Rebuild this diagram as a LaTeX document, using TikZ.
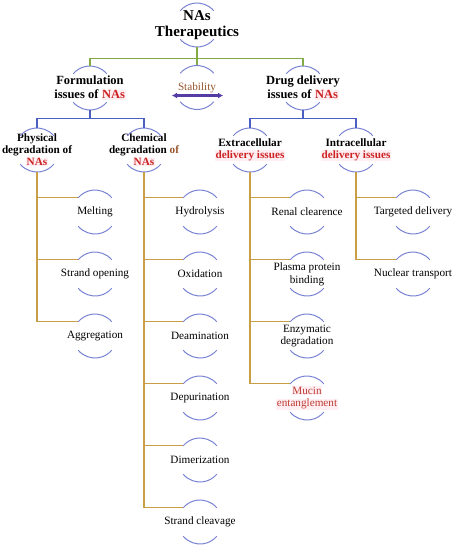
\documentclass[tikz,border=0pt]{standalone}
\usepackage{fontspec}
\setmainfont{Liberation Serif}
\usetikzlibrary{arrows.meta, calc}
\definecolor{arcblue}{RGB}{120,130,210}
\definecolor{treegreen}{RGB}{130,170,70}
\definecolor{treeblue}{RGB}{75,95,195}
\definecolor{treebrown}{RGB}{200,158,70}
\definecolor{nared}{RGB}{205,35,35}
\definecolor{mucinred}{RGB}{190,60,50}
\definecolor{stabbrown}{RGB}{150,85,45}
\definecolor{arrowpurple}{RGB}{85,60,165}
\definecolor{hlpink}{RGB}{255,238,242}
\newcommand*{\hlred}[1]{{\setlength{\fboxsep}{0.6pt}\colorbox{hlpink}{\textcolor{nared}{#1}}}}
\newcommand*{\hlmucin}[1]{{\setlength{\fboxsep}{0.6pt}\colorbox{hlpink}{\textcolor{mucinred}{#1}}}}

\begin{document}
\begin{tikzpicture}[
        x=1pt,y=-1pt,
        every node/.style={inner sep=0pt, minimum height=44pt, align=center},
        toplevel/.style={font=\fontsize{15}{16}\selectfont\bfseries},
        midlevel/.style={font=\fontsize{12.5}{14}\selectfont\bfseries},
        sublevel/.style={font=\fontsize{11.2}{12}\selectfont\bfseries},
        leaf/.style={font=\fontsize{11.2}{12.8}\selectfont},
        ringarc/.style={arcblue, line width=1pt},
        greenline/.style={treegreen, line width=1.2pt},
        blueline/.style={treeblue, line width=1.2pt},
        brownline/.style={treebrown, line width=1.2pt},
        ]

        \useasboundingbox (0,0) rectangle (456,550);

        % top and second row
        \node[toplevel] (top)   at (197,25) {NAs\\Therapeutics};
        \node[midlevel] (form)  at (90,88)  {Formulation\\issues of \hlred{NAs}};
        \node[leaf, text=stabbrown] (stab) at (197,87.5) {Stability};
        \node[midlevel] (drug)  at (303,88) {Drug delivery\\issues of \hlred{NAs}};

        % third row
        \node[sublevel] (phys)  at (37,150)  {Physical\\degradation of\\\hlred{NAs}};
        \node[sublevel] (chem)  at (144,150) {Chemical\\degradation \textcolor{stabbrown}{of}\\\hlred{NAs}};
        \node[sublevel] (extra) at (250,150) {Extracellular\\\hlred{delivery issues}};
        \node[sublevel] (intra) at (356,150) {Intracellular\\\hlred{delivery issues}};

        % leaves
        \node[leaf] (melt)  at (95,212) {Melting};
        \node[leaf] (open)  at (95,274) {Strand opening};
        \node[leaf] (aggr)  at (95,336) {Aggregation};

        \node[leaf] (hydro) at (200,212) {Hydrolysis};
        \node[leaf] (oxid)  at (200,274) {Oxidation};
        \node[leaf] (deam)  at (200,336) {Deamination};
        \node[leaf] (depur) at (200,398) {Depurination};
        \node[leaf] (dimer) at (200,460) {Dimerization};
        \node[leaf] (cleav) at (200,522) {Strand cleavage};

        \node[leaf] (renal) at (307,212) {Renal clearence};
        \node[leaf] (plasm) at (307,274) {Plasma protein\\binding};
        \node[leaf] (enzym) at (307,336) {Enzymatic\\degradation};
        \node[leaf] (mucin) at (307,398) {\hlmucin{Mucin}\\\hlmucin{entanglement}};

        \node[leaf] (targ)  at (413,212) {Targeted delivery};
        \node[leaf] (nucl)  at (413,274) {Nuclear transport};

        % arcs round every node
        \foreach \n in {top,form,stab,drug,phys,chem,extra,intra,melt,open,aggr,
                        hydro,oxid,deam,depur,dimer,cleav,renal,plasm,enzym,mucin,targ,nucl}{
            \draw[ringarc] ($(\n.center)+(40:22pt)$) arc[start angle=40, end angle=140, radius=22pt];
            \draw[ringarc] ($(\n.center)+(220:22pt)$) arc[start angle=220, end angle=320, radius=22pt];
        }

        % connectors
        \draw[greenline] (top.south) -- ++(0,11) coordinate (gbar) -| (form.north);
        \draw[greenline] (gbar) -| (drug.north);
        \draw[greenline] (top.south) -- (stab.north);

        \draw[blueline] (form.south) -- ++(0,8) coordinate (fbar) -| (phys.north);
        \draw[blueline] (fbar) -| (chem.north);
        \draw[blueline] (drug.south) -- ++(0,8) coordinate (dbar) -| (extra.north);
        \draw[blueline] (dbar) -| (intra.north);

        \foreach \p/\c in {phys/melt,phys/open,phys/aggr,
                           chem/hydro,chem/oxid,chem/deam,chem/depur,chem/dimer,chem/cleav,
                           extra/renal,extra/plasm,extra/enzym,extra/mucin,
                           intra/targ,intra/nucl}
            \draw[brownline] (\p.south) |- ($(\c.center)+(140:22pt)$);

        % stability arrow
        \coordinate (stabL) at (172,95.5);
        \coordinate (stabR) at (223,95.5);
        \draw[arrowpurple, line width=2.2pt, {Latex[length=5pt,width=6pt]}-{Latex[length=5pt,width=6pt]}] (stabL) -- (stabR);
      \end{tikzpicture}
\end{document}
